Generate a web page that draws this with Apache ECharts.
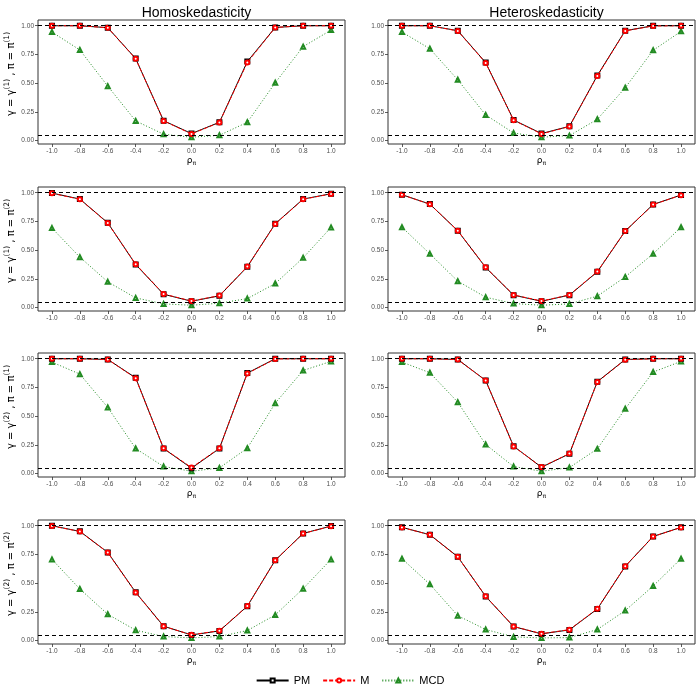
<!DOCTYPE html>
<html>
<head>
<meta charset="utf-8">
<script src="https://cdn.jsdelivr.net/npm/echarts@6/dist/echarts.min.js"></script>
<style>
  html, body { margin: 0; padding: 0; background: #fff; }
  #chart { width: 700px; height: 700px; }
</style>
</head>
<body>
<div id="chart"></div>
<script>
// rho_pi values on the x axis
const rhoPi = [-1.0, -0.8, -0.6, -0.4, -0.2, 0.0, 0.2, 0.4, 0.6, 0.8, 1.0];
const yTicks = [0, 0.25, 0.5, 0.75, 1.0];
const refLines = [1.0, 0.05];

const colTitles = ['Homoskedasticity', 'Heteroskedasticity'];
const rowGamma = ['1', '1', '2', '2'];
const rowPi = ['1', '2', '1', '2'];

// panel order: row by row, left = homo, right = hetero
const pmHomo11 = [1.00, 1.00, 0.983, 0.714, 0.173, 0.061, 0.159, 0.688, 0.985, 1.00, 1.00];
const mHomo11  = [1.00, 1.00, 0.983, 0.712, 0.171, 0.058, 0.157, 0.680, 0.985, 1.00, 1.00];
const mcdHomo11 = [0.945, 0.789, 0.474, 0.171, 0.055, 0.029, 0.046, 0.159, 0.503, 0.818, 0.962];

const pmHet11 = [1.00, 1.00, 0.957, 0.679, 0.179, 0.061, 0.124, 0.566, 0.957, 1.00, 1.00];
const mHet11  = [1.00, 1.00, 0.955, 0.676, 0.177, 0.058, 0.122, 0.562, 0.955, 0.998, 1.00];
const mcdHet11 = [0.945, 0.800, 0.529, 0.223, 0.066, 0.029, 0.043, 0.185, 0.460, 0.786, 0.951];

const pmHomo12 = [0.997, 0.945, 0.738, 0.375, 0.116, 0.055, 0.102, 0.355, 0.730, 0.945, 0.991];
const mHomo12  = [0.995, 0.943, 0.736, 0.378, 0.118, 0.057, 0.104, 0.358, 0.728, 0.943, 0.990];
const mcdHomo12 = [0.692, 0.439, 0.224, 0.084, 0.032, 0.020, 0.038, 0.078, 0.209, 0.433, 0.698];

const pmHet12 = [0.983, 0.901, 0.669, 0.349, 0.108, 0.055, 0.108, 0.311, 0.666, 0.898, 0.980];
const mHet12  = [0.982, 0.900, 0.670, 0.350, 0.110, 0.057, 0.110, 0.313, 0.667, 0.897, 0.979];
const mcdHet12 = [0.700, 0.468, 0.230, 0.090, 0.035, 0.020, 0.032, 0.099, 0.267, 0.468, 0.700];

const pmHomo21 = [1.00, 1.00, 0.994, 0.834, 0.218, 0.047, 0.218, 0.875, 1.00, 1.00, 1.00];
const mHomo21  = [1.00, 1.00, 0.994, 0.830, 0.220, 0.052, 0.220, 0.872, 0.998, 1.00, 1.00];
const mcdHomo21 = [0.971, 0.866, 0.576, 0.218, 0.061, 0.020, 0.049, 0.221, 0.613, 0.898, 0.977];

const pmHet21 = [1.00, 1.00, 0.994, 0.811, 0.238, 0.055, 0.172, 0.800, 0.994, 1.00, 1.00];
const mHet21  = [1.00, 1.00, 0.993, 0.810, 0.236, 0.057, 0.174, 0.798, 0.992, 1.00, 1.00];
const mcdHet21 = [0.971, 0.878, 0.622, 0.253, 0.061, 0.020, 0.052, 0.215, 0.564, 0.884, 0.977];

const pmHomo22 = [1.00, 0.951, 0.768, 0.420, 0.125, 0.049, 0.084, 0.299, 0.699, 0.933, 0.997];
const mHomo22  = [0.998, 0.950, 0.767, 0.418, 0.124, 0.050, 0.086, 0.300, 0.700, 0.932, 0.996];
const mcdHomo22 = [0.707, 0.449, 0.229, 0.090, 0.035, 0.023, 0.035, 0.087, 0.223, 0.452, 0.707];

const pmHet22 = [0.986, 0.922, 0.730, 0.384, 0.122, 0.058, 0.093, 0.275, 0.646, 0.907, 0.986];
const mHet22  = [0.985, 0.921, 0.729, 0.386, 0.123, 0.060, 0.095, 0.277, 0.648, 0.906, 0.985];
const mcdHet22 = [0.713, 0.490, 0.217, 0.096, 0.032, 0.023, 0.026, 0.096, 0.261, 0.475, 0.713];

const panels = [
  [pmHomo11, mHomo11, mcdHomo11], [pmHet11, mHet11, mcdHet11],
  [pmHomo12, mHomo12, mcdHomo12], [pmHet12, mHet12, mcdHet12],
  [pmHomo21, mHomo21, mcdHomo21], [pmHet21, mHet21, mcdHet21],
  [pmHomo22, mHomo22, mcdHomo22], [pmHet22, mHet22, mcdHet22]
];

const lefts = [38, 388];
const tops = [20, 187, 353, 520];
const gridW = 307, gridH = 124;

const styles = [
  { name: 'PM', color: '#000000', type: 'solid', symbol: 'emptyRect', z: 3 },
  { name: 'M', color: '#ff0000', type: [4, 2], symbol: 'emptyCircle', z: 4 },
  { name: 'MCD', color: '#228B22', type: [1, 2], symbol: 'emptyTriangle', z: 2 }
];

const grids = [], xAxes = [], yAxes = [], series = [];

panels.forEach(function (panel, i) {
  const row = Math.floor(i / 2), col = i % 2;
  grids.push({
    left: lefts[col], top: tops[row], width: gridW, height: gridH,
    show: true, borderColor: '#333', borderWidth: 1, backgroundColor: '#fff'
  });
  xAxes.push({
    type: 'value', gridIndex: i, min: -1.1, max: 1.1,
    name: '{r|ρ}{s|π}', nameLocation: 'middle', nameGap: 12,
    nameTextStyle: {
      rich: {
        r: { fontSize: 9, color: '#000', fontFamily: 'DejaVu Sans' },
        s: { fontSize: 6, color: '#000', verticalAlign: 'bottom', padding: [4, 0, 0, 0], fontFamily: 'DejaVu Sans' }
      }
    },
    splitLine: { show: false },
    axisLine: { show: false, onZero: false },
    axisTick: { show: true, length: 3, customValues: rhoPi, lineStyle: { color: '#333', width: 0.8 } },
    axisLabel: {
      customValues: rhoPi, fontSize: 6.5, color: '#4d4d4d', margin: 4,
      fontFamily: 'Liberation Sans',
      formatter: function (v) { return v.toFixed(1); }
    }
  });
  const yName = col === 0
    ? '{a|γ = γ}{s|(' + rowGamma[row] + ')}{a| , π = π}{s|(' + rowPi[row] + ')}'
    : '';
  yAxes.push({
    type: 'value', gridIndex: i, min: -0.03, max: 1.05,
    name: yName, nameLocation: 'middle', nameGap: 19, nameRotate: 90,
    nameTextStyle: {
      padding: [0, 0, 0, 16],
      rich: {
        a: { fontSize: 10, color: '#000', fontFamily: 'DejaVu Sans', lineHeight: 16 },
        s: { fontSize: 7.5, color: '#000', fontFamily: 'DejaVu Sans', verticalAlign: 'top', lineHeight: 16 }
      }
    },
    splitLine: { show: false },
    axisLine: { show: false, onZero: false },
    axisTick: { show: true, length: 3, customValues: yTicks, lineStyle: { color: '#333', width: 0.8 } },
    axisLabel: {
      customValues: yTicks, fontSize: 6.5, color: '#4d4d4d', margin: 4,
      fontFamily: 'Liberation Sans',
      formatter: function (v) { return v.toFixed(2); }
    }
  });
  styles.forEach(function (st, k) {
    const s = {
      name: st.name, type: 'line', xAxisIndex: i, yAxisIndex: i,
      data: rhoPi.map(function (x, j) { return [x, panel[k][j]]; }),
      symbol: st.symbol, symbolSize: 4, showSymbol: true,
      lineStyle: { color: st.color, width: 1, type: st.type },
      itemStyle: { color: st.color, borderColor: st.color, borderWidth: 0.8 },
      emphasis: { disabled: true },
      animation: false,
      z: st.z
    };
    if (k === 0) {
      s.markLine = {
        silent: true, symbol: 'none', label: { show: false },
        lineStyle: { color: '#000', type: [4, 3], width: 1 },
        data: refLines.map(function (v) { return { yAxis: v }; })
      };
    }
    series.push(s);
  });
});

const chart = echarts.init(document.getElementById('chart'));
chart.setOption({
  animation: false,
  backgroundColor: '#fff',
  title: colTitles.map(function (t, c) {
    return {
      text: t, left: lefts[c] + gridW / 2, top: 1, textAlign: 'center',
      textStyle: { fontSize: 14, fontWeight: 'normal', color: '#000', fontFamily: 'Liberation Sans' }
    };
  }),
  legend: {
    bottom: 9, left: 'center', itemWidth: 32, itemHeight: 5, itemGap: 12,
    data: ['PM', 'M', 'MCD'],
    textStyle: { fontSize: 11, color: '#000', fontFamily: 'Liberation Sans' }
  },
  grid: grids,
  xAxis: xAxes,
  yAxis: yAxes,
  series: series
});
</script>
</body>
</html>
